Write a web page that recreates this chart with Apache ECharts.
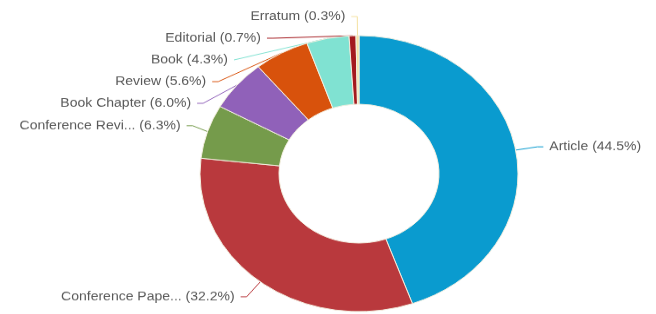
<!DOCTYPE html>
<html>
<head>
<meta charset="utf-8">
<script src="https://cdn.jsdelivr.net/npm/echarts@6/dist/echarts.min.js"></script>
<style>
  html, body { margin: 0; padding: 0; background: #fff; overflow: hidden; }
  #wrap { width: 656px; height: 314px; overflow: hidden; }
  /* the source picture is squashed vertically, so the chart is drawn taller and scaled */
  #chart { width: 656px; height: 362px; transform: scaleY(0.868); transform-origin: 0 0; }
</style>
</head>
<body>
<div id="wrap"><div id="chart"></div></div>
<script>
const categories = ['Article', 'Conference Paper', 'Conference Review', 'Book Chapter', 'Review', 'Book', 'Editorial', 'Erratum']
const shares = [44.5, 32.2, 6.3, 6.0, 5.6, 4.3, 0.7, 0.3]
const colors = ['#0a9bcf', '#b9393d', '#759b4b', '#9061b9', '#d8520c', '#80e2d2', '#a3191e', '#f4e1a0']

const shortName = name => name.length > 15 ? name.slice(0, 15) + '...' : name

const chart = echarts.init(document.getElementById('chart'))
chart.setOption({
  animation: false,
  color: colors,
  series: [
    {
      type: 'pie',
      center: [359, 200],
      radius: [80, 159],
      startAngle: 90,
      clockwise: true,
      avoidLabelOverlap: true,
      itemStyle: {
        borderColor: '#f3efe0',
        borderWidth: 1
      },
      label: {
        show: true,
        position: 'outer',
        fontFamily: 'Liberation Sans, Arial, sans-serif',
        fontSize: 14,
        lineHeight: 23,
        color: '#585858',
        distanceToLabelLine: 6,
        formatter: p => shortName(p.name) + ' (' + p.value.toFixed(1) + '%)'
      },
      labelLine: {
        show: true,
        length: 22,
        length2: 6,
        smooth: false,
        lineStyle: { width: 1 }
      },
      data: categories.map((c, i) => ({ name: c, value: shares[i] }))
    }
  ]
})
</script>
</body>
</html>
